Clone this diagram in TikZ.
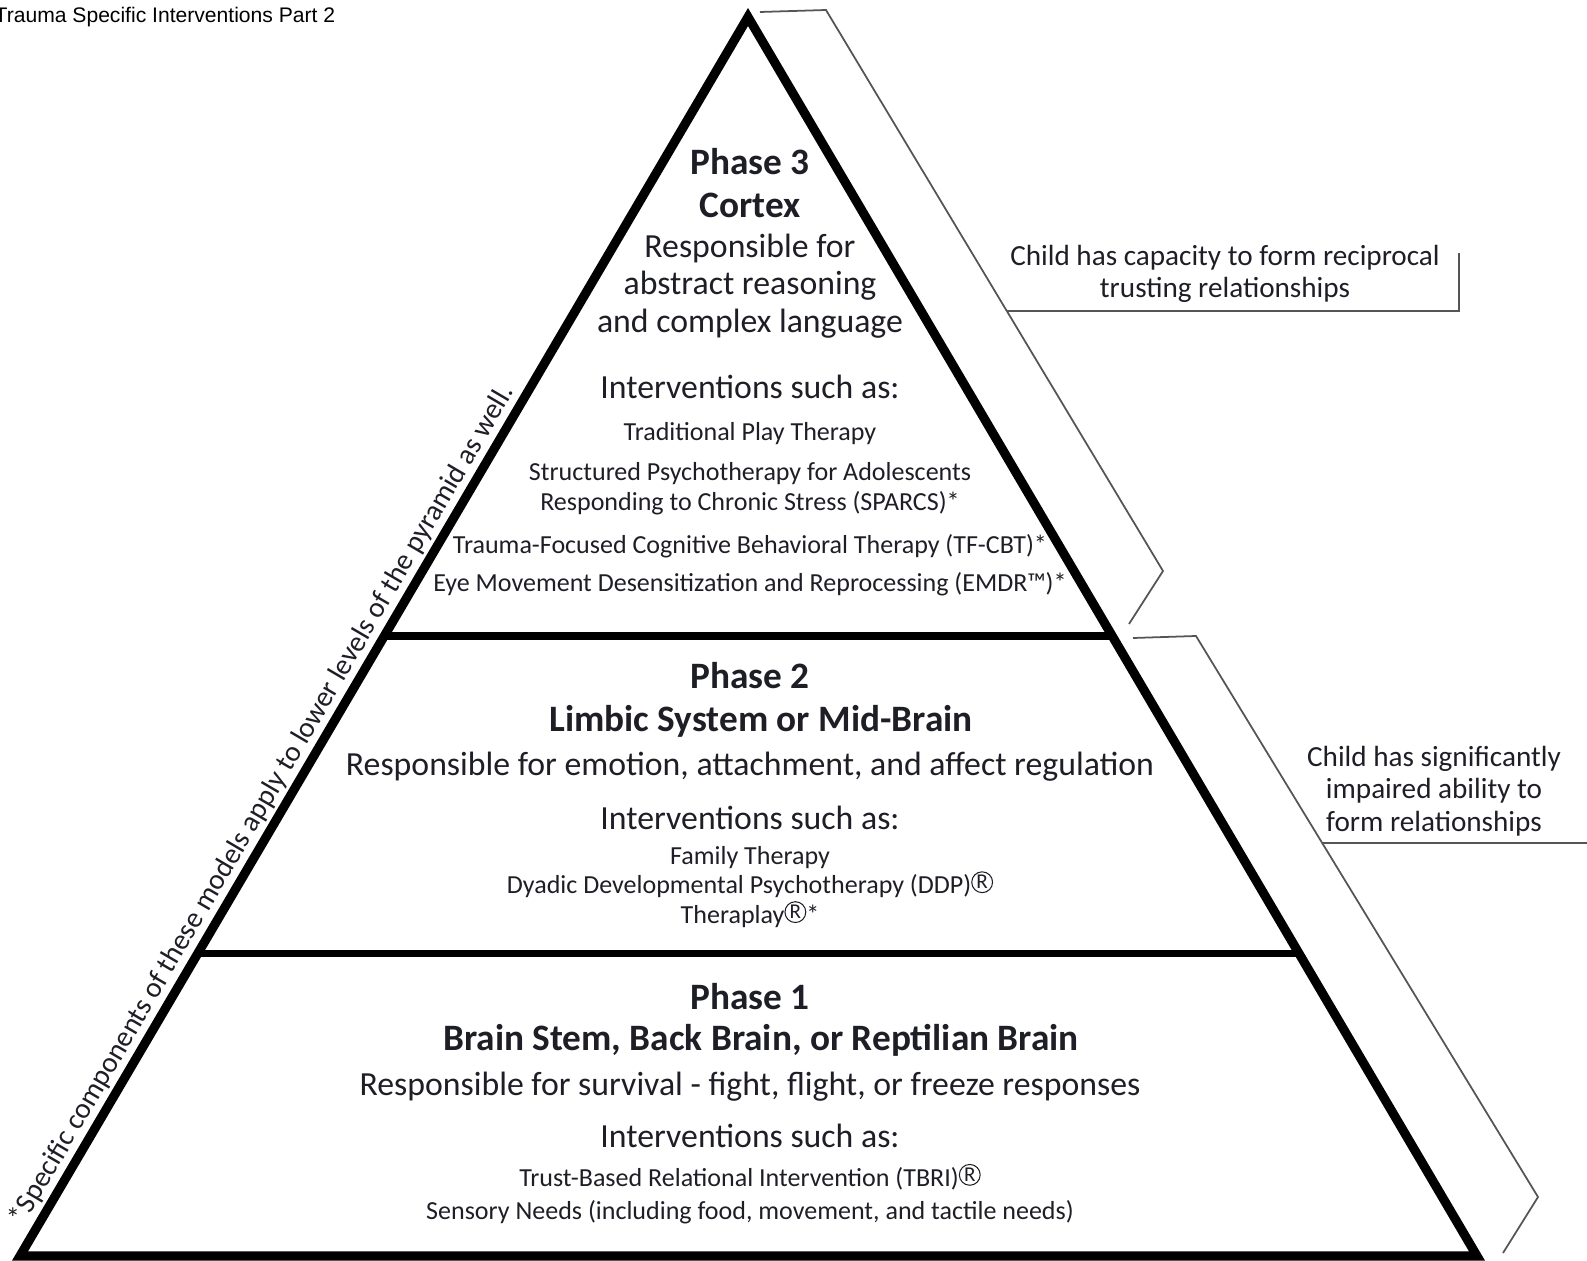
\documentclass[tikz,border=0pt]{standalone}
\usepackage{fontspec}
\setmainfont{Carlito}
\newfontfamily\titlefont{Liberation Sans}
\usetikzlibrary{calc}
\definecolor{ink}{HTML}{1E1E26}
\definecolor{brk}{HTML}{555555}
% circled R, drawn since the fonts lack it
\newcommand{\regR}{\tikz[baseline=-0.12em, x=1em, y=1em]{\draw[line width=0.3pt] (0.4,0.33) circle (0.4); \node[inner sep=0, font=\fontsize{6}{6}\selectfont] at (0.4,0.33) {R};}}

\begin{document}
\begin{tikzpicture}[x=0.01cm, y=-0.01cm,
    txt/.style={inner sep=0, align=center, text=ink},
    head/.style={txt, font=\fontsize{10.6}{12.2}\selectfont\bfseries},
    resp/.style={txt, font=\fontsize{9.6}{10.7}\selectfont},
    item/.style={txt, font=\fontsize{7.4}{8.5}\selectfont},
    side/.style={txt, font=\fontsize{8.3}{9.2}\selectfont},
    note/.style={txt, font=\fontsize{8.2}{9}\selectfont},
    pyr/.style={line width=2.6pt, line join=miter},
    divider/.style={line width=2pt},
    bracket/.style={draw=brk, line width=0.5pt}]
    \useasboundingbox (0,0) rectangle (1587,1261);
    \node[anchor=west, inner sep=0, font=\titlefont\fontsize{6}{6.5}\selectfont] (title) at (-6,17) {Trauma Specific Interventions Part 2};

    % pyramid outline and the two dividers
    \coordinate (apex) at (748,17);
    \coordinate (bl) at (20,1256);
    \coordinate (br) at (1477,1256);
    \draw[pyr] (apex) -- (bl) -- (br) -- cycle;
    \draw[divider] ($(apex)!0.4996!(bl)$) -- ($(apex)!0.4996!(br)$);
    \draw[divider] ($(apex)!0.7555!(bl)$) -- ($(apex)!0.7555!(br)$);

    % Phase 3 (top)
    \node[head] (head3) at (750,183) {Phase 3\\Cortex};
    \node[resp] (resp3) at (750,286) {Responsible for\\abstract reasoning\\and complex language};
    \node[resp] (int3) at (750,387) {Interventions such as:};
    \node[item] (tpt) at (750,434) {Traditional Play Therapy};
    \node[item] (sparcs) at (750,489) {Structured Psychotherapy for Adolescents\\Responding to Chronic Stress (SPARCS)*};
    \node[item] (tfcbt) at (750,546) {Trauma-Focused Cognitive Behavioral Therapy (TF-CBT)*};
    \node[item] (emdr) at (750,584) {Eye Movement Desensitization and Reprocessing (EMDR™)*};

    % Phase 2 (middle)
    \node[head] (head2) at (750,700) {Phase 2\\\hspace*{0.22cm}Limbic System or Mid-Brain};
    \node[resp] (resp2) at (750,767) {Responsible for emotion, attachment, and affect regulation};
    \node[resp] (int2) at (750,818) {Interventions such as:};
    \node[item] (items2) at (750,887) {Family Therapy\\Dyadic Developmental Psychotherapy (DDP)\regR\\Theraplay\regR*};

    % Phase 1 (bottom)
    \node[head, font=\fontsize{10.6}{11.7}\selectfont\bfseries] (head1) at (750,1020) {Phase 1\\\hspace*{0.22cm}Brain Stem, Back Brain, or Reptilian Brain};
    \node[resp] (resp1) at (750,1087) {Responsible for survival - fight, flight, or freeze responses};
    \node[resp] (int1) at (750,1136) {Interventions such as:};
    \node[item, font=\fontsize{7.4}{9.4}\selectfont] (items1) at (750,1194) {Trust-Based Relational Intervention (TBRI)\regR\\Sensory Needs (including food, movement, and tactile needs)};

    % note along the left side
    \node[note, rotate=59.56, anchor=base] (note) at (269,809) {*Specific components of these models apply to lower levels of the pyramid as well.};

    % brackets on the right
    \draw[bracket] (760,12) -- (826,10) coordinate (b1top) -- (1163,571) -- (1129,624);
    \coordinate (b1mid) at (1007,311);
    \node[side] (lab1) at (1225,274) {Child has capacity to form reciprocal\\trusting relationships};
    \draw[bracket] (b1mid) -- (1459,311) -- (1459,253);

    \draw[bracket] (1133,638) -- (1196,636) -- (1538,1197) -- (1503,1253);
    \coordinate (b2mid) at (1322,843);
    \node[side] (lab2) at (1434,791) {Child has significantly\\impaired ability to\\form relationships};
    \draw[bracket] (b2mid) -- (1587,843);
\end{tikzpicture}
\end{document}
